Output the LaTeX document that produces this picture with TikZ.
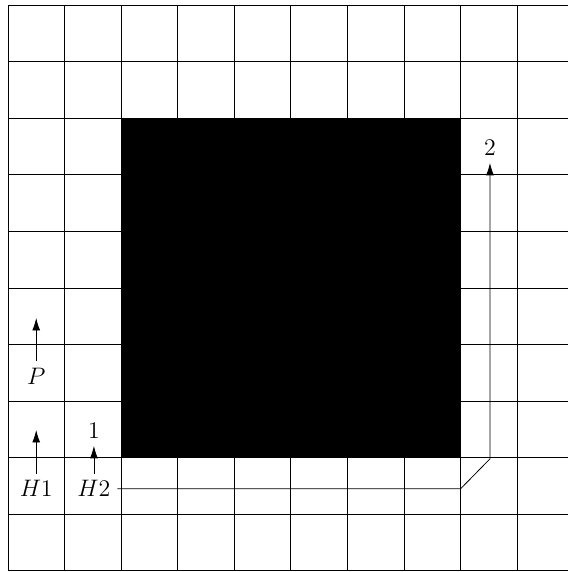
\documentclass[tikz,border=0pt]{standalone}
\usepackage{amsmath}
\usepackage{amssymb}
\usepackage{tikz}
\usetikzlibrary{arrows.meta,positioning}

\begin{document}
\begin{tikzpicture}[x=1cm,y=1cm,>={Latex[length=2.2mm,width=1.4mm]}]
\useasboundingbox (-0.14,-0.02) rectangle (9.89,10.09);
\foreach \x in {0,...,10} {\draw (\x,0) -- (\x,10);}
\foreach \y in {0,...,10} {\draw (0,\y) -- (10,\y);}
\fill (2,2) rectangle (8,8);
\node[font=\large] (P) at (0.5,3.44) {$P$};
\node[font=\large] (H1) at (0.5,1.45) {$H1$};
\node[font=\large] (H2) at (1.52,1.45) {$H2$};
\node[font=\large] (one) at (1.52,2.47) {$1$};
\node[font=\large] (two) at (8.52,7.47) {$2$};
\coordinate (pTip) at (0.5,4.47);
\coordinate (hTip) at (0.5,2.49);
\coordinate (bend1) at (8,1.45);
\coordinate (bend2) at (8.52,1.98);
\draw[->] (P.north) -- (pTip);
\draw[->] (H1.north) -- (hTip);
\draw[->] (H2.north) -- (one.south);
\draw[->] (H2.east) -- (bend1) -- (bend2) -- (two.south);
\end{tikzpicture}
\end{document}
